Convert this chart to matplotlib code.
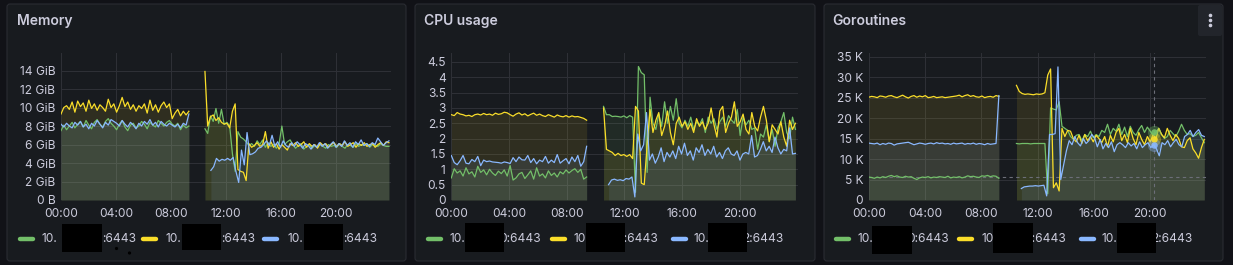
import numpy as np
import matplotlib
matplotlib.use("Agg")
import matplotlib.pyplot as plt
from matplotlib.patches import FancyBboxPatch, Rectangle
from matplotlib.lines import Line2D

plt.rcParams['font.family'] = ['Inter', 'DejaVu Sans']

# ---------------- data ----------------
hour_ticks = [0, 4, 8, 12, 16, 20]
hour_labels = ["00:00", "04:00", "08:00", "12:00", "16:00", "20:00"]
legend_suffix = ["0:6443", "1:6443", "2:6443"]

# Memory (GiB)
mem_ticks = [0, 2, 4, 6, 8, 10, 12, 14]
mem_labels = ["0 B", "2 GiB", "4 GiB", "6 GiB", "8 GiB", "10 GiB", "12 GiB", "14 GiB"]
mem_seg1 = (0.0, 9.3)
mem_seg2 = (10.47, 23.85)
mem_seg2_blue = (10.9, 23.85)
mem_green_1 = [7.5, 8.1, 7.6, 8.0, 8.4, 7.8, 8.2, 8.5, 7.9, 8.6, 8.1, 7.7, 8.4, 8.7, 8.2, 7.9,
               8.5, 8.8, 8.3, 8.0, 7.6, 8.2, 8.6, 7.9, 7.5, 8.1, 8.3, 7.8, 8.0, 8.5, 8.2, 7.7,
               8.4, 8.1, 7.9, 8.6, 8.3, 8.0, 8.4, 8.6, 8.2, 8.0, 8.3, 7.6, 8.1, 7.8, 8.0]
mem_yellow_1 = [9.3, 10.0, 10.2, 9.8, 10.6, 9.5, 10.7, 10.1, 10.5, 9.6, 10.8, 9.9, 10.4, 9.7, 10.3, 10.0,
                9.6, 10.9, 10.0, 10.4, 9.5, 10.2, 11.1, 10.1, 10.6, 9.8, 10.3, 9.6, 10.2, 9.9, 10.4, 9.4,
                10.8, 9.7, 10.3, 9.5, 10.2, 10.6, 10.0, 10.4, 8.8, 9.4, 9.8, 9.1, 9.6, 9.2, 9.6]
mem_blue_1 = [8.2, 7.9, 8.3, 8.0, 7.8, 8.4, 8.1, 8.5, 7.9, 8.2, 7.7, 8.3, 8.0, 8.6, 8.2, 7.8,
              8.4, 8.1, 8.7, 8.5, 8.3, 8.0, 8.6, 8.2, 7.9, 8.4, 8.1, 7.7, 8.3, 8.0, 8.5, 8.2,
              8.7, 8.1, 8.4, 7.9, 8.5, 8.2, 8.0, 8.3, 8.1, 7.9, 8.2, 7.8, 8.3, 8.1, 9.3]
mem_green_2 = [7.7, 7.2, 9.1, 8.5, 9.9, 8.3, 9.8, 8.2, 8.4, 8.0, 5.0, 3.1, 7.4, 6.8, 6.6, 6.3,
               5.9, 6.1, 5.8, 6.4, 6.0, 6.5, 5.7, 6.2, 5.8, 6.0, 5.6, 6.1, 8.0, 6.0, 6.3, 6.5,
               6.0, 5.6, 5.9, 6.1, 5.5, 5.8, 6.0, 5.6, 5.9, 5.7, 6.0, 5.8, 5.6, 6.0, 5.8, 5.9,
               5.7, 6.1, 5.8, 5.6, 6.0, 5.9, 5.7, 6.1, 5.8, 6.0, 5.9, 6.1, 5.7, 6.0, 5.9, 5.8,
               6.1, 5.9, 5.8, 5.8]
mem_yellow_2 = [13.9, 8.0, 9.0, 9.2, 8.6, 8.9, 8.4, 8.2, 8.3, 7.8, 9.6, 10.4, 3.3, 3.1, 3.0, 2.1,
                6.1, 5.7, 5.9, 6.2, 5.8, 6.0, 7.4, 5.6, 6.3, 5.7, 6.1, 5.5, 6.0, 5.7, 5.4, 6.1,
                5.9, 6.2, 5.8, 6.0, 6.3, 5.7, 6.1, 5.8, 6.0, 5.6, 6.2, 5.9, 6.1, 5.7, 6.0, 6.2,
                5.8, 6.1, 5.9, 6.3, 5.8, 6.0, 6.2, 5.7, 6.1, 5.9, 6.2, 5.8, 6.0, 6.1, 5.7, 6.0,
                6.2, 5.9, 6.3, 6.2]
mem_blue_2 = [3.2, 3.6, 4.5, 4.2, 4.4, 4.3, 4.5, 4.3, 4.6, 3.1, 1.9, 5.4, 3.8, 7.3, 4.9, 5.0,
              5.2, 5.6, 5.7, 6.0, 6.4, 5.9, 7.0, 5.8, 6.3, 5.7, 6.4, 5.9, 5.7, 6.2, 5.8, 6.3,
              6.0, 5.6, 6.1, 5.9, 5.5, 6.0, 5.7, 6.2, 5.8, 6.1, 5.6, 6.0, 6.3, 5.7, 6.1, 5.8,
              6.4, 5.9, 6.2, 5.7, 6.3, 6.0, 6.5, 5.9, 6.1, 5.8, 6.2, 6.0, 6.7, 6.3, 5.9, 6.2,
              6.4]

# CPU usage (cores)
cpu_ticks = [0, 0.5, 1, 1.5, 2, 2.5, 3, 3.5, 4, 4.5]
cpu_labels = ["0", "0.5", "1", "1.5", "2", "2.5", "3", "3.5", "4", "4.5"]
cpu_seg1 = (0.0, 9.38)
cpu_seg2 = (10.55, 23.85)
cpu_seg2_blue = (10.9, 23.85)
cpu_green_1 = [0.72, 1.02, 0.88, 0.95, 0.78, 1.05, 0.85, 0.92, 0.75, 1.10, 0.90, 0.98, 0.82, 1.00, 0.88, 0.80,
               0.94, 0.86, 0.98, 0.78, 1.12, 0.65, 0.72, 0.85, 0.90, 0.70, 0.82, 0.95, 0.68, 1.05, 0.78, 0.85,
               0.72, 0.95, 0.80, 0.88, 0.75, 0.92, 0.85, 0.98, 0.88, 0.96, 1.02, 0.90, 1.00, 0.68, 0.75]
cpu_yellow_1 = [2.78, 2.75, 2.85, 2.80, 2.78, 2.74, 2.76, 2.72, 2.78, 2.80, 2.77, 2.82, 2.78, 2.80, 2.76, 2.83,
                2.79, 2.81, 2.86, 2.84, 2.78, 2.73, 2.80, 2.84, 2.77, 2.81, 2.74, 2.79, 2.83, 2.76, 2.80, 2.75,
                2.72, 2.78, 2.74, 2.70, 2.77, 2.73, 2.71, 2.75, 2.70, 2.74, 2.71, 2.72, 2.69, 2.66, 2.60]
cpu_blue_1 = [1.45, 1.22, 1.15, 1.28, 1.45, 1.20, 1.18, 1.32, 1.25, 1.42, 1.12, 1.30, 1.25, 1.27, 1.24, 1.23,
              1.22, 1.20, 1.24, 1.22, 1.19, 1.38, 1.25, 1.40, 1.31, 1.30, 1.45, 1.22, 1.35, 1.18, 1.30, 1.25,
              1.42, 1.20, 1.30, 1.22, 1.48, 1.20, 1.28, 1.35, 1.18, 1.40, 1.25, 1.45, 1.10, 1.25, 1.75]
cpu_green_2 = [3.05, 2.78, 2.78, 2.72, 2.73, 2.72, 2.70, 2.74, 2.68, 2.75, 2.70, 0.25, 4.35, 4.15, 4.08, 0.9,
               3.35, 2.5, 2.3, 2.8, 2.4, 3.2, 2.5, 3.05, 2.6, 3.3, 2.5, 2.35, 2.6, 2.4, 2.7, 2.3,
               2.55, 2.45, 2.65, 2.2, 2.7, 2.5, 2.65, 2.3, 2.55, 2.7, 2.4, 2.75, 2.6, 2.5, 2.95, 2.1,
               2.7, 2.45, 2.6, 2.3, 2.35, 1.65, 2.15, 2.05, 2.45, 1.9, 2.3, 1.75, 2.35, 2.55, 2.85, 2.2,
               2.0, 2.7, 2.3]
cpu_yellow_2 = [3.0, 1.65, 1.6, 1.55, 1.45, 1.52, 1.45, 1.48, 1.42, 1.48, 1.35, 3.05, 2.9, 0.55, 0.5, 1.8,
                2.95, 2.2, 2.6, 2.85, 2.1, 2.4, 2.9, 2.2, 1.8, 2.5, 2.7, 2.4, 2.55, 2.3, 2.5, 2.2,
                2.65, 2.4, 2.55, 2.3, 2.5, 3.0, 2.45, 2.05, 2.9, 3.05, 2.2, 2.5, 2.7, 3.2, 2.4, 2.55,
                2.8, 2.3, 2.15, 2.85, 2.4, 2.25, 2.7, 3.05, 2.6, 1.9, 2.45, 2.3, 2.15, 2.55, 2.05, 1.75,
                2.6, 2.3, 2.5]
cpu_blue_2 = [0.5, 0.65, 0.68, 0.64, 0.66, 0.63, 0.7, 0.68, 0.75, 0.1, 2.15, 1.6, 1.8, 2.85, 1.3, 1.5,
              1.2, 1.4, 1.7, 1.25, 1.55, 1.4, 1.6, 1.35, 1.75, 1.5, 1.85, 1.45, 1.6, 1.3, 1.7, 1.55,
              1.8, 1.45, 1.65, 1.5, 1.75, 1.4, 1.55, 1.35, 1.6, 1.7, 1.5, 1.45, 1.6, 1.3, 1.5, 1.55,
              1.5, 2.1, 1.4, 1.45, 1.65, 1.9, 1.6, 1.75, 1.55, 2.05, 1.7, 1.5, 1.65, 1.6, 2.35, 1.5,
              1.52]

# Goroutines (thousands)
gor_ticks = [0, 5, 10, 15, 20, 25, 30, 35]
gor_labels = ["0", "5 K", "10 K", "15 K", "20 K", "25 K", "30 K", "35 K"]
gor_seg1 = (0.0, 9.25)
gor_seg2 = (10.5, 23.85)
gor_seg2_blue = (10.85, 23.85)
gor_green_1 = [5.6, 5.5, 5.3, 5.6, 5.4, 5.7, 5.5, 5.8, 6.0, 5.7, 5.9, 5.6, 5.5, 5.8, 5.6, 5.7,
               5.3, 5.0, 5.4, 5.6, 5.5, 5.7, 5.4, 5.6, 5.5, 5.7, 5.6, 5.5, 5.8, 5.4, 5.6, 5.5,
               5.7, 5.4, 5.6, 5.9, 5.7, 5.8, 5.6, 5.5, 5.9, 5.8, 6.0, 5.7, 5.9, 5.8, 5.3]
gor_yellow_1 = [25.1, 25.3, 25.2, 25.0, 25.4, 25.3, 25.1, 25.4, 25.5, 25.2, 25.0, 25.3, 25.6, 25.2, 24.9, 25.3,
                25.5, 25.1, 25.4, 25.2, 25.5, 25.0, 25.1, 25.3, 25.0, 25.1, 25.2, 25.0, 25.1, 25.2, 25.3, 25.4,
                25.6, 25.2, 25.5, 25.7, 25.3, 25.5, 25.2, 25.1, 25.4, 25.0, 25.2, 25.3, 25.1, 25.5, 25.3]
gor_blue_1 = [13.9, 13.8, 13.7, 13.9, 13.5, 13.8, 13.6, 13.9, 13.8, 13.4, 13.7, 13.8, 13.9, 14.0, 14.1, 13.8,
              13.5, 13.7, 13.9, 13.8, 13.6, 13.8, 13.9, 13.7, 14.0, 13.8, 13.9, 13.7, 13.8, 13.6, 13.9, 13.7,
              13.8, 13.9, 13.6, 13.8, 13.7, 13.9, 13.6, 13.8, 13.7, 13.5, 13.8, 13.6, 13.7, 13.8, 25.5]
gor_green_2 = [13.8, 13.7, 13.8, 13.8, 13.8, 13.7, 13.8, 13.8, 13.8, 13.8, 13.8, 1.5, 22.5, 22.2, 22.0, 24.0,
               18.0, 17.5, 17.0, 15.5, 14.8, 15.8, 16.0, 14.5, 16.0, 15.5, 16.8, 15.2, 16.0, 15.5, 17.0, 16.5,
               18.5, 16.0, 17.5, 16.8, 18.5, 16.0, 17.8, 15.5, 18.0, 16.5, 15.8, 17.2, 18.2, 16.5, 17.8, 16.8,
               15.8, 16.5, 17.5, 16.0, 15.0, 15.5, 17.0, 16.2, 15.5, 16.8, 18.5, 17.0, 16.0, 16.2, 15.5, 15.8,
               16.5, 15.2, 14.0]
gor_yellow_2 = [28.0, 26.5, 26.0, 25.8, 25.9, 25.8, 25.7, 25.9, 25.8, 25.9, 26.2, 30.5, 32.0, 3.0, 4.2, 2.2,
                17.5, 15.5, 17.0, 16.8, 15.0, 14.2, 15.8, 13.8, 16.0, 14.5, 15.5, 14.2, 15.8, 15.0, 14.0, 15.5,
                13.0, 15.8, 14.2, 16.5, 17.5, 14.5, 16.0, 14.0, 17.5, 15.0, 13.5, 16.5, 14.8, 13.5, 15.5, 14.2,
                16.0, 15.0, 17.5, 16.0, 15.2, 17.5, 15.8, 14.5, 16.0, 15.0, 13.0, 12.8, 14.5, 15.2, 12.5, 11.5,
                10.2, 12.8, 14.8]
gor_blue_2 = [2.8, 3.2, 3.3, 3.4, 3.4, 3.5, 3.4, 3.5, 3.6, 1.0, 16.0, 16.0, 16.2, 32.5, 5.0, 8.5,
              12.0, 14.5, 13.5, 15.5, 14.0, 13.2, 15.0, 13.8, 14.5, 16.0, 15.2, 13.0, 14.8, 12.5, 13.8, 12.8,
              14.2, 11.8, 13.5, 14.0, 13.5, 12.8, 14.0, 13.2, 13.8, 12.5, 14.2, 12.8, 13.5, 14.0, 12.8, 13.5,
              12.5, 10.8, 14.0, 13.5, 14.5, 13.0, 14.0, 14.8, 13.5, 13.0, 15.5, 16.0, 17.0, 15.5, 16.5, 17.2,
              15.8, 15.5]
gor_hover_time = 20.28
gor_hover_values = [16.5, 15.0, 13.5]   # green, yellow, blue at the hover time
gor_hover_level = 5.5

# ---------------- style ----------------
W, H, DPI = 1233, 265, 100
PAGE_BG = "#111217"
PANEL_BG = "#181b1f"
PANEL_EDGE = "#2a2c32"
GRID = "#2e3036"
TEXT = "#ccccdc"
GREEN, YELLOW, BLUE = "#73bf69", "#fade2a", "#8ab8ff"
SERIES_COLORS = [GREEN, YELLOW, BLUE]

fig = plt.figure(figsize=(W / DPI, H / DPI), dpi=DPI, facecolor=PAGE_BG)
T = fig.dpi_scale_trans


def px(x, y):
    return x / DPI, (H - y) / DPI


def panel_box(x0, x1, y0, y1, face, edge, r=3, z=-10):
    (ax0, ay1), (ax1, ay0) = px(x0, y0), px(x1, y1)
    p = FancyBboxPatch((ax0, ay0), ax1 - ax0, ay1 - ay0,
                       boxstyle=f"round,pad=0,rounding_size={r / DPI}",
                       transform=T, facecolor=face, edgecolor=edge, linewidth=0.8, zorder=z)
    fig.patches.append(p)


def fig_text(x, y, s, size=8.6, weight="normal", ha="left", color=TEXT):
    fx, fy = px(x, y)
    fig.text(fx, fy, s, transform=T, fontsize=size, fontweight=weight,
             color=color, ha=ha, va="center", zorder=5)


def make_axes(left, right, top, bottom, ylim, yticks, ylabels):
    ax = fig.add_axes([left / W, (H - bottom) / H, (right - left) / W, (bottom - top) / H])
    ax.set_zorder(1)
    ax.set_facecolor("none")
    for s in ax.spines.values():
        s.set_visible(False)
    ax.set_xlim(0, 24)
    ax.set_ylim(*ylim)
    ax.set_xticks(hour_ticks, hour_labels)
    ax.set_yticks(yticks, ylabels)
    ax.tick_params(length=0, colors=TEXT, labelsize=8.6)
    ax.tick_params(axis="x", pad=6)
    ax.tick_params(axis="y", pad=4)
    ax.grid(True, color=GRID, linewidth=0.75, zorder=0)
    ax.set_axisbelow(True)
    return ax


def draw(ax, segments, color):
    for (t0, t1), vals in segments:
        v = np.asarray(vals, dtype=float)
        t = np.linspace(t0, t1, len(v))
        ax.fill_between(t, 0, v, color=color, alpha=0.1, linewidth=0, zorder=1)
        ax.plot(t, v, color=color, linewidth=0.9, zorder=3, solid_joinstyle="round")


def legend(items):
    # items: (marker_x, text_x, box_x0, box_x1, box_y0, box_y1, suffix_x, suffix)
    for color, (mx, tx, bx0, bx1, by0, by1, sx, suf) in zip(SERIES_COLORS, items):
        y = 239
        (a, b), (c, d) = px(mx, y), px(mx + 13, y)
        fig.lines.append(Line2D([a, c], [b, d], transform=T, color=color,
                                linewidth=3.2, solid_capstyle="round", zorder=5))
        fig_text(tx, y, "10.")
        fig_text(sx, y, suf)
        (rx0, ry1), (rx1, ry0) = px(bx0, by0), px(bx1, by1)
        fig.patches.append(Rectangle((rx0, ry0), rx1 - rx0, ry1 - ry0, transform=T,
                                     facecolor="black", edgecolor="none", zorder=10))


# ---------------- panels ----------------
panel_box(7, 406, 4, 261, PANEL_BG, PANEL_EDGE)
panel_box(415, 815, 4, 261, PANEL_BG, PANEL_EDGE)
panel_box(824, 1223, 4, 261, PANEL_BG, PANEL_EDGE)

fig_text(17, 21, "Memory", size=10, weight="semibold")
fig_text(424, 21, "CPU usage", size=10, weight="semibold")
fig_text(832, 21, "Goroutines", size=10, weight="semibold")

# menu button on third panel
panel_box(1198, 1222, 5, 36, "#22252b", "none", r=2, z=-5)
for yy in (15.5, 20.5, 25.5):
    fx, fy = px(1210.5, yy)
    fig.patches.append(plt.Circle((fx, fy), 0.011, transform=T, color=TEXT, zorder=5))

# Memory
ax1 = make_axes(61, 391, 53, 200, (0, 15.9), mem_ticks, mem_labels)
draw(ax1, [(mem_seg1, mem_green_1), (mem_seg2, mem_green_2)], GREEN)
draw(ax1, [(mem_seg1, mem_yellow_1), (mem_seg2, mem_yellow_2)], YELLOW)
draw(ax1, [(mem_seg1, mem_blue_1), (mem_seg2_blue, mem_blue_2)], BLUE)

# CPU
ax2 = make_axes(451.3, 797.6, 53, 200, (0, 4.79), cpu_ticks, cpu_labels)
draw(ax2, [(cpu_seg1, cpu_green_1), (cpu_seg2, cpu_green_2)], GREEN)
draw(ax2, [(cpu_seg1, cpu_yellow_1), (cpu_seg2, cpu_yellow_2)], YELLOW)
draw(ax2, [(cpu_seg1, cpu_blue_1), (cpu_seg2_blue, cpu_blue_2)], BLUE)

# Goroutines
ax3 = make_axes(868.7, 1206.4, 53, 200, (0, 35.9), gor_ticks, gor_labels)
ax3.axhline(gor_hover_level, color="#6c6e78", linewidth=0.8, linestyle=(0, (3, 3)), zorder=2)
ax3.axvline(gor_hover_time, color="#6c6e78", linewidth=0.8, linestyle=(0, (3, 3)), zorder=2)
draw(ax3, [(gor_seg1, gor_green_1), (gor_seg2, gor_green_2)], GREEN)
draw(ax3, [(gor_seg1, gor_yellow_1), (gor_seg2, gor_yellow_2)], YELLOW)
draw(ax3, [(gor_seg1, gor_blue_1), (gor_seg2_blue, gor_blue_2)], BLUE)
for c, v in zip(SERIES_COLORS, gor_hover_values):
    ax3.scatter([gor_hover_time], [v], s=90, color=c, alpha=0.35, linewidths=0, zorder=4)
    ax3.scatter([gor_hover_time], [v], s=22, color=c, alpha=0.9, linewidths=0, zorder=5)

# Legends (with redaction boxes)
legend([(20, 42, 62, 102, 224, 252, 102, ":6443"),
        (143, 166, 182, 221, 224, 250, 221, ":6443"),
        (264, 287, 304, 343, 224, 250, 343, ":6443")])
for dx, dy in ((116.5, 248.5), (129.5, 253.0)):
    fx, fy = px(dx, dy)
    fig.patches.append(plt.Circle((fx, fy), 0.009, transform=T, color="black", zorder=11))
legend([(428, 450, 465, 504, 223, 252, 499, legend_suffix[0]),
        (552, 573, 586, 625, 223, 252, 620, legend_suffix[1]),
        (673, 694, 708, 747, 223, 252, 742, legend_suffix[2])])
legend([(836, 857, 872, 912, 226, 254, 907, legend_suffix[0]),
        (959, 981, 993, 1033, 223, 253, 1028, legend_suffix[1]),
        (1081, 1102, 1117, 1156, 223, 253, 1151, legend_suffix[2])])

fig.savefig("out.png", dpi=DPI, facecolor=PAGE_BG)
